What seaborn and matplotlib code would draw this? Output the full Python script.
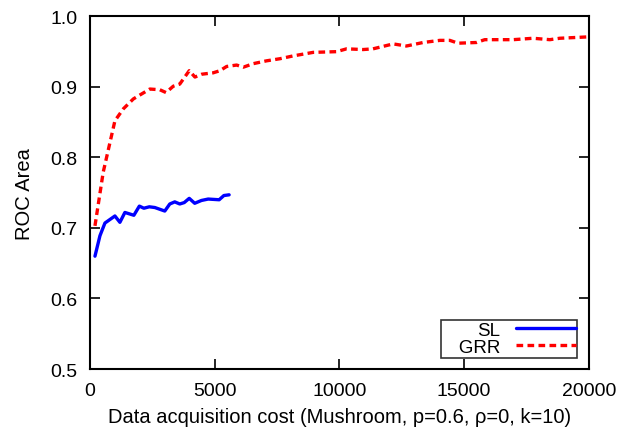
import matplotlib
matplotlib.use("Agg")
import matplotlib.pyplot as plt
import seaborn as sns
import pandas as pd

sl_x = [200, 400, 600, 1000, 1200, 1400, 1760, 1980, 2160, 2380, 2600, 3000, 3200, 3400, 3600, 3780, 3980, 4200, 4470, 4740, 5180, 5370, 5580]
sl_y = [0.660, 0.689, 0.707, 0.717, 0.708, 0.722, 0.718, 0.731, 0.728, 0.730, 0.729, 0.724, 0.734, 0.737, 0.734, 0.736, 0.742, 0.735, 0.739, 0.741, 0.740, 0.746, 0.747]

grr_x = [200, 530, 1000, 1340, 1740, 2070, 2400, 2800, 3050, 3340, 3600, 3980, 4210, 4480, 4940, 5210, 5480, 5880, 6150, 6550, 7080, 7620, 8150, 8950, 9890, 10290, 10950, 11350, 12160, 12690, 13360, 14030, 14430, 14760, 15500, 15830, 16970, 17770, 18440, 18840, 20000]
grr_y = [0.703, 0.779, 0.852, 0.869, 0.883, 0.890, 0.897, 0.896, 0.892, 0.901, 0.904, 0.923, 0.914, 0.918, 0.920, 0.923, 0.929, 0.931, 0.928, 0.933, 0.937, 0.940, 0.944, 0.949, 0.950, 0.954, 0.953, 0.954, 0.961, 0.958, 0.963, 0.966, 0.966, 0.962, 0.963, 0.967, 0.967, 0.969, 0.967, 0.969, 0.971]

x_ticks = [0, 5000, 10000, 15000, 20000]
y_ticks = [0.5, 0.6, 0.7, 0.8, 0.9, 1.0]

sns.set_style("ticks")
plt.rcParams['font.family'] = ['Liberation Sans', 'DejaVu Sans']
plt.rcParams['text.color'] = 'black'
plt.rcParams['axes.labelcolor'] = 'black'
plt.rcParams['xtick.color'] = 'black'
plt.rcParams['ytick.color'] = 'black'

fig = plt.figure(figsize=(6.18, 4.35), dpi=100)
ax = fig.add_axes([0.1456, 0.1494, 0.807, 0.8106])

sl_df = pd.DataFrame({"x": sl_x, "y": sl_y})
grr_df = pd.DataFrame({"x": grr_x, "y": grr_y})

sns.lineplot(data=sl_df, x="x", y="y", ax=ax, color="#0000ff", lw=2.4, label="SL")
sns.lineplot(data=grr_df, x="x", y="y", ax=ax, color="#ff0000", lw=2.4, label="   GRR",
             dashes=False, linestyle=(0, (2.0, 1.3)))

ax.set_xlim(0, 20000)
ax.set_ylim(0.5, 1.0)
ax.set_xticks(x_ticks)
ax.set_xticklabels([str(t) for t in x_ticks])
ax.set_yticks(y_ticks)
ax.set_yticklabels([f"{t:.1f}" for t in y_ticks])
ax.tick_params(direction="in", length=7, width=1.2, top=True, right=True, labelsize=14,
               colors="black", labelcolor="black")
ax.tick_params(axis="y", pad=9)
ax.tick_params(axis="x", pad=9)
for s in ax.spines.values():
    s.set_linewidth(1.5)
    s.set_color("black")

ax.set_xlabel("Data acquisition cost (Mushroom, p=0.6, ρ=0, k=10)", fontsize=14.5, labelpad=6, color="black")
ax.set_ylabel("ROC Area", fontsize=14.5, labelpad=12, color="black")

leg = ax.legend(loc="lower right", markerfirst=False, fontsize=13.5, frameon=True, fancybox=False,
                edgecolor="black", handlelength=3.2, borderpad=0.1, labelspacing=0.0,
                borderaxespad=0.6, handletextpad=0.8)
leg.get_frame().set_linewidth(1.2)
for t in leg.get_texts():
    t.set_ha("right")
    t.set_color("black")

fig.savefig("out.png", dpi=100)
